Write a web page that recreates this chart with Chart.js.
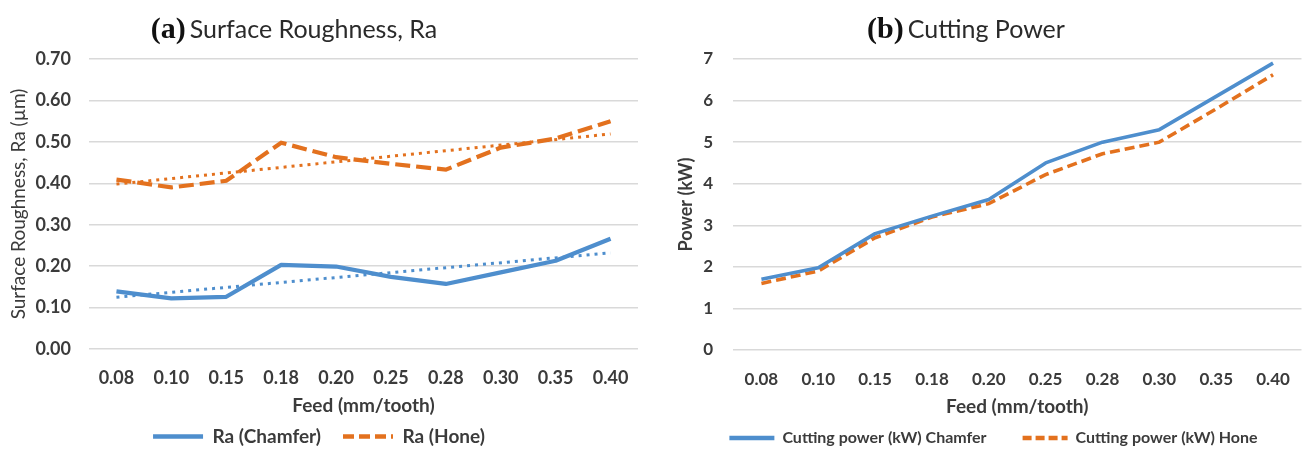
<!DOCTYPE html>
<html>
<head>
<meta charset="utf-8">
<script src="https://cdn.jsdelivr.net/npm/chart.js@4.4.1/dist/chart.umd.min.js"></script>
<style>
  html, body { margin: 0; padding: 0; background: #ffffff; }
  body { width: 1309px; height: 451px; position: relative; overflow: hidden; }
  .wrap { position: absolute; top: 0; height: 451px; }
  #wrapA { left: 0; width: 650px; }
  #wrapB { left: 655px; width: 654px; }
  .ttl { position: absolute; top: 10px; white-space: nowrap; transform: translateX(-50%); color: #222; line-height: 36px; }
  .ttl .tag { font-family: "Liberation Serif", "DejaVu Serif", serif; font-weight: bold; font-size: 30px; color: #111; }
  .ttl .txt { font-family: Lato, "Open Sans", sans-serif; font-size: 25px; color: #2a2a2a; }
  #ttlA { left: 294px; }
  #ttlB { left: 966px; }
</style>
</head>
<body>
<div class="wrap" id="wrapA"><canvas id="chartA" width="650" height="451"></canvas></div>
<div class="wrap" id="wrapB"><canvas id="chartB" width="654" height="451"></canvas></div>
<div class="ttl" id="ttlA"><span class="tag">(a)</span> <span class="txt">Surface Roughness, Ra</span></div>
<div class="ttl" id="ttlB"><span class="tag">(b)</span> <span class="txt">Cutting Power</span></div>
<script>
// ---- data ----
const feedLabels = ['0.08', '0.10', '0.15', '0.18', '0.20', '0.25', '0.28', '0.30', '0.35', '0.40'];

const raChamfer = [0.139, 0.122, 0.126, 0.203, 0.199, 0.174, 0.157, 0.185, 0.213, 0.266];
const raHone    = [0.409, 0.390, 0.406, 0.498, 0.463, 0.447, 0.433, 0.486, 0.508, 0.550];
// linear trendlines: end values (straight line between them)
const raChamferTrend = [0.125, null, null, null, null, null, null, null, null, 0.232];
const raHoneTrend    = [0.398, null, null, null, null, null, null, null, null, 0.519];

const powerChamfer = [1.70, 1.98, 2.80, 3.22, 3.62, 4.50, 5.00, 5.30, 6.10, 6.90];
const powerHone    = [1.60, 1.90, 2.70, 3.20, 3.52, 4.22, 4.72, 5.00, 5.80, 6.62];

const raTicks = [0, 0.1, 0.2, 0.3, 0.4, 0.5, 0.6, 0.7];
const powerTicks = [0, 1, 2, 3, 4, 5, 6, 7];

// ---- styling ----
const BLUE = '#4e8ecd';
const ORANGE = '#e3711e';
const GRID = '#d9d9d9';
const TXT = '#3b3b3b';
const FONT = 'Lato, "Open Sans", sans-serif';

function buildOptions(cfg) {
  return {
    responsive: false,
    animation: false,
    layout: { padding: { top: cfg.padTop, right: cfg.padRight, bottom: 0, left: cfg.padLeft } },
    plugins: {
      title: { display: false },
      tooltip: { enabled: false },
      legend: {
        position: 'bottom',
        maxHeight: cfg.legendHeight,
        labels: {
          usePointStyle: true,
          pointStyle: 'line',
          pointStyleWidth: cfg.legendBox,
          boxHeight: cfg.legendFont,
          padding: cfg.legendPad,
          color: TXT,
          font: { family: FONT, size: cfg.legendFont, weight: 'bold' },
          filter: (item) => !item.text.startsWith('Trend'),
          generateLabels: (chart) => {
            const items = Chart.defaults.plugins.legend.labels.generateLabels(chart);
            items.forEach((it) => {
              const ds = chart.data.datasets[it.datasetIndex];
              it.lineDash = ds.legendDash || [];
              it.lineWidth = ds.legendWidth || 4;
              it.strokeStyle = ds.borderColor;
            });
            return items;
          }
        }
      }
    },
    scales: {
      x: {
        type: 'category',
        offset: true,
        grid: { display: false, drawTicks: false },
        border: { display: false },
        ticks: { color: TXT, padding: cfg.xTickPad, font: { family: FONT, size: cfg.tickSize, weight: 'bold' }, maxRotation: 0, autoSkip: false },
        title: { display: true, text: 'Feed (mm/tooth)', color: TXT, padding: { top: 0, bottom: cfg.xTitlePad }, font: { family: FONT, size: 19, weight: 'bold' } },
        afterFit: (s) => { s.height = cfg.xHeight; }
      },
      y: {
        min: cfg.yTicks[0],
        max: cfg.yTicks[cfg.yTicks.length - 1],
        afterBuildTicks: (s) => { s.ticks = cfg.yTicks.map(v => ({ value: v })); },
        grid: { color: GRID, lineWidth: 1.4, drawTicks: false },
        border: { display: false },
        ticks: { color: TXT, padding: cfg.yTickPad, font: { family: FONT, size: cfg.tickSize, weight: 'bold' }, callback: cfg.fmt },
        title: { display: true, text: cfg.yTitle, color: TXT, padding: { top: cfg.yTitlePad, bottom: 0 }, font: { family: FONT, size: cfg.yTitleSize, weight: cfg.yTitleWeight } },
        afterFit: (s) => { s.width = cfg.yWidth; }
      }
    }
  };
}

new Chart(document.getElementById('chartA'), {
  type: 'line',
  data: {
    labels: feedLabels,
    datasets: [
      { label: 'Ra (Chamfer)', data: raChamfer, borderColor: BLUE, backgroundColor: BLUE, borderWidth: 4.2, pointRadius: 0, tension: 0, borderJoinStyle: 'round', legendWidth: 4.5 },
      { label: 'Ra (Hone)', data: raHone, borderColor: ORANGE, backgroundColor: ORANGE, borderWidth: 4.2, borderDash: [15, 6], pointRadius: 0, tension: 0, legendDash: [11, 5], legendWidth: 4.5 },
      { label: 'Trend Chamfer', data: raChamferTrend, spanGaps: true, borderColor: BLUE, borderWidth: 3, borderDash: [3, 5], pointRadius: 0, tension: 0 },
      { label: 'Trend Hone', data: raHoneTrend, spanGaps: true, borderColor: ORANGE, borderWidth: 3, borderDash: [3, 5], pointRadius: 0, tension: 0 }
    ]
  },
  options: buildOptions({
    padTop: 59, padRight: 12, padLeft: 0, legendHeight: 46, legendBox: 50, legendFont: 19, legendPad: 22,
    tickSize: 18, xTickPad: 18, xTitlePad: -12, xHeight: 56,
    yTicks: raTicks, fmt: (v) => Number(v).toFixed(2), yTickPad: 18,
    yTitle: 'Surface Roughness, Ra (µm)', yTitlePad: 7, yTitleSize: 19, yTitleWeight: 'normal', yWidth: 89
  })
});

new Chart(document.getElementById('chartB'), {
  type: 'line',
  data: {
    labels: feedLabels,
    datasets: [
      { label: 'Cutting power (kW) Chamfer', data: powerChamfer, borderColor: BLUE, backgroundColor: BLUE, borderWidth: 3.6, pointRadius: 0, tension: 0, borderJoinStyle: 'round', legendWidth: 4.5 },
      { label: 'Cutting power (kW) Hone', data: powerHone, borderColor: ORANGE, backgroundColor: ORANGE, borderWidth: 3.6, borderDash: [10, 5], pointRadius: 0, tension: 0, legendDash: [9, 4], legendWidth: 4.5 }
    ]
  },
  options: buildOptions({
    padTop: 59, padRight: 3, padLeft: 26, legendHeight: 57, legendBox: 45, legendFont: 16, legendPad: 36,
    tickSize: 17, xTickPad: 19, xTitlePad: -24, xHeight: 44,
    yTicks: powerTicks, fmt: (v) => String(v), yTickPad: 20,
    yTitle: 'Power (kW)', yTitlePad: -6, yTitleSize: 18, yTitleWeight: 'bold', yWidth: 52
  })
});
</script>
</body>
</html>
